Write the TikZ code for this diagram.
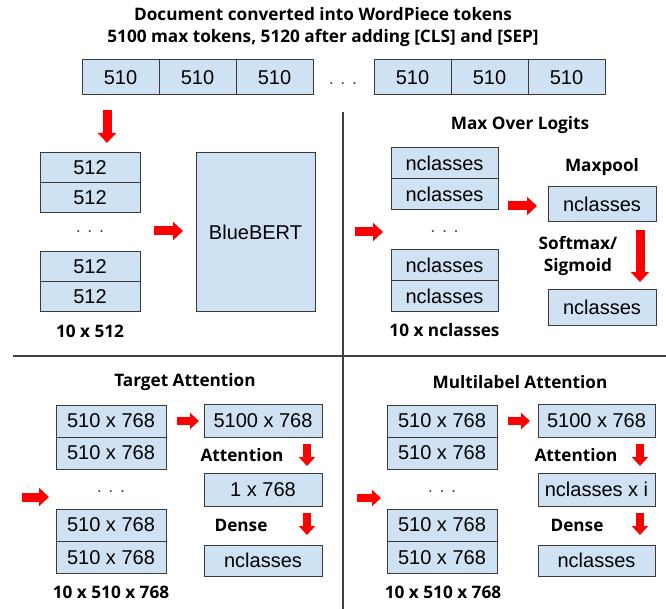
\documentclass[tikz,border=0pt]{standalone}
\usepackage{fontspec}
\setmainfont{Liberation Sans}
\newfontfamily\labfont{Open Sans}
\usetikzlibrary{arrows.meta}
\definecolor{boxblue}{HTML}{CFE2F3}
\definecolor{boxline}{HTML}{3A3A3A}
\definecolor{arrred}{HTML}{FF0000}
\begin{document}
\begin{tikzpicture}[x=1pt,y=-1pt,
  cell/.style={draw=boxline, fill=boxblue, line width=1pt, inner sep=0pt, font=\fontsize{20}{24}\selectfont},
  topcell/.style={cell, minimum width=77pt, minimum height=35pt},
  lcell/.style={cell, minimum width=100pt, minimum height=30pt},
  mcell/.style={cell, minimum width=107pt, minimum height=31pt},
  tcell/.style={cell, minimum width=110pt, minimum height=32pt},
  pbox/.style={cell, minimum width=108pt, minimum height=35pt},
  abox/.style={cell, minimum width=118pt, minimum height=33pt},
  lab/.style={font=\labfont\bfseries\fontsize{17.2}{22}\selectfont, inner sep=0pt, align=center},
  dots/.style={font=\fontsize{18}{20}\selectfont, inner sep=0pt, text=black!70},
  redarrow/.style={draw=arrred, line width=9pt, -{Triangle[length=10pt,width=18pt]}},
  smallarrow/.style={draw=arrred, line width=8pt, -{Triangle[length=9pt,width=16pt]}},
  divider/.style={draw=black!75, line width=2pt}]
\useasboundingbox (0,0) rectangle (666,609);

% title
\node[lab] (title1) at (323,14) {Document converted into WordPiece tokens};
\node[lab] (title2) at (323,38) {5100 max tokens, 5120 after adding [CLS] and [SEP]};

% top row
\node[topcell] (t1) at (120.5,77.5) {510};
\node[topcell] (t2) at (197.5,77.5) {510};
\node[topcell] (t3) at (274.5,77.5) {510};
\node[dots] (tdots) at (343,84) {. . .};
\node[topcell] (t4) at (412.5,77.5) {510};
\node[topcell] (t5) at (489.5,77.5) {510};
\node[topcell] (t6) at (566.5,77.5) {510};

% dividers
\coordinate (vtop) at (343,112);
\coordinate (vbot) at (343,609);
\coordinate (hl) at (13,356);
\coordinate (hr) at (666,356);
\draw[divider] (vtop) -- (vbot);
\draw[divider] (hl) -- (hr);

% ---- top left: chunks to BlueBERT
\coordinate (a1s) at (107,110); \coordinate (a1e) at (107,143);
\draw[redarrow] (a1s) -- (a1e);
\node[lcell] (l1) at (90,168) {512};
\node[lcell] (l2) at (90,198) {512};
\node[dots] (ldots) at (90,232) {. . .};
\node[lcell] (l3) at (90,266.5) {512};
\node[lcell] (l4) at (90,296.5) {512};
\node[lab] (lcap) at (90,331) {10 x 512};
\coordinate (a2s) at (154,231); \coordinate (a2e) at (183,231);
\draw[redarrow] (a2s) -- (a2e);
\node[cell, minimum width=119pt, minimum height=159pt] (bert) at (255.5,232.5) {BlueBERT};

% ---- top right: Max Over Logits
\node[lab] (mtitle) at (520,125) {Max Over Logits};
\coordinate (a3s) at (355,232); \coordinate (a3e) at (383,232);
\draw[redarrow] (a3s) -- (a3e);
\node[mcell] (m1) at (444.5,163.5) {nclasses};
\node[mcell] (m2) at (444.5,194.5) {nclasses};
\node[dots] (mdots) at (444.5,232) {. . .};
\node[mcell] (m3) at (444.5,265) {nclasses};
\node[mcell] (m4) at (444.5,296) {nclasses};
\node[lab] (mcap) at (444.5,330) {10 x nclasses};
\coordinate (a4s) at (508,206); \coordinate (a4e) at (537,206);
\draw[redarrow] (a4s) -- (a4e);
\node[lab] (maxpool) at (602,167) {Maxpool};
\node[pbox] (pool) at (602,204.5) {nclasses};
\node[lab] (softmax) at (578,256) {Softmax/\\Sigmoid};
\coordinate (a5s) at (640,230); \coordinate (a5e) at (640,282);
\draw[redarrow] (a5s) -- (a5e);
\node[pbox] (pout) at (602,307.5) {nclasses};

% ---- bottom left: Target Attention
\node[lab] (ttitle) at (185,382) {Target Attention};
\coordinate (b1s) at (22,497); \coordinate (b1e) at (49,497);
\draw[redarrow] (b1s) -- (b1e);
\node[tcell] (ta1) at (111,421) {510 x 768};
\node[tcell] (ta2) at (111,453) {510 x 768};
\node[dots] (tadots) at (111,492) {. . .};
\node[tcell] (ta3) at (111,525) {510 x 768};
\node[tcell] (ta4) at (111,557.5) {510 x 768};
\node[lab] (tacap) at (111,592) {10 x 510 x 768};
\coordinate (b2s) at (177,421); \coordinate (b2e) at (199,421);
\draw[smallarrow] (b2s) -- (b2e);
\node[abox] (tb1) at (263,420.5) {5100 x 768};
\node[lab] (tatt) at (242,455) {Attention};
\coordinate (b3s) at (307,444); \coordinate (b3e) at (307,466);
\draw[smallarrow] (b3s) -- (b3e);
\node[abox] (tb2) at (263,489.5) {1 x 768};
\node[lab] (tdense) at (241,525) {Dense};
\coordinate (b4s) at (307,513); \coordinate (b4e) at (307,535);
\draw[smallarrow] (b4s) -- (b4e);
\node[abox, minimum height=31pt] (tb3) at (263,560.5) {nclasses};

% ---- bottom right: Multilabel Attention
\node[lab] (mltitle) at (520,382) {Multilabel Attention};
\coordinate (c1s) at (357,498); \coordinate (c1e) at (381,498);
\draw[smallarrow] (c1s) -- (c1e);
\node[tcell] (ma1) at (442,421) {510 x 768};
\node[tcell] (ma2) at (442,453) {510 x 768};
\node[dots] (madots) at (442,492) {. . .};
\node[tcell] (ma3) at (442,525) {510 x 768};
\node[tcell] (ma4) at (442,557.5) {510 x 768};
\node[lab] (macap) at (443,592) {10 x 510 x 768};
\coordinate (c2s) at (508,421); \coordinate (c2e) at (530,421);
\draw[smallarrow] (c2s) -- (c2e);
\node[abox, minimum width=117pt] (mb1) at (596.5,420.5) {5100 x 768};
\node[lab] (matt) at (576,455) {Attention};
\coordinate (c3s) at (640,444); \coordinate (c3e) at (640,466);
\draw[smallarrow] (c3s) -- (c3e);
\node[abox, minimum width=117pt] (mb2) at (596.5,489.5) {nclasses x i};
\node[lab] (mdense) at (577,525) {Dense};
\coordinate (c4s) at (640,513); \coordinate (c4e) at (640,535);
\draw[smallarrow] (c4s) -- (c4e);
\node[abox, minimum width=117pt, minimum height=31pt] (mb3) at (596.5,560.5) {nclasses};
\end{tikzpicture}
\end{document}
